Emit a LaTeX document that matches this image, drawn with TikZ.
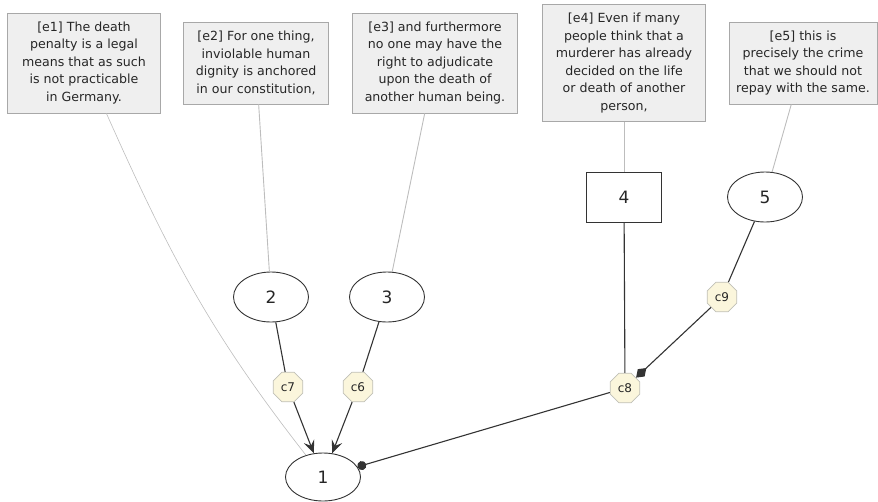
\documentclass[tikz,border=0pt]{standalone}
\usepackage{fontspec}
\setmainfont{DejaVu Sans}
\usetikzlibrary{shapes.geometric,arrows.meta}
\definecolor{boxfill}{HTML}{EFEFEF}
\definecolor{boxline}{HTML}{A8A8A8}
\definecolor{cfill}{HTML}{FBF6DC}
\definecolor{cline}{HTML}{C0C0B8}
\definecolor{thinline}{HTML}{BDBDBD}
\tikzset{
  textbox/.style={draw=boxline, fill=boxfill, line width=0.9pt, align=center, inner sep=0pt,
    font=\fontsize{12.6}{17.5}\selectfont, text=black!85},
  ellnode/.style={ellipse, draw=black!80, line width=0.9pt, minimum width=75pt, minimum height=50pt,
    inner sep=0pt, font=\fontsize{17}{18}\selectfont, text=black!85},
  rectnode/.style={rectangle, draw=black!80, line width=0.9pt, minimum width=75pt, minimum height=50pt,
    inner sep=0pt, font=\fontsize{17}{18}\selectfont, text=black!85},
  conn/.style={regular polygon, regular polygon sides=8, draw=cline, fill=cfill, line width=0.8pt,
    minimum size=32pt, inner sep=0pt, font=\fontsize{12}{12}\selectfont, text=black!85},
  srcedge/.style={draw=thinline, line width=0.9pt},
  argedge/.style={draw=black!80, line width=1.1pt},
}
\begin{document}
\begin{tikzpicture}[x=1pt,y=-1pt]
\useasboundingbox (0,0) rectangle (878,501);
% text boxes
\node[textbox, minimum width=153pt, minimum height=100pt] (e1) at (84,63)
  {[e1] The death\\penalty is a legal\\means that as such\\is not practicable\\in Germany.};
\node[textbox, minimum width=145pt, minimum height=82pt] (e2) at (256,63)
  {[e2] For one thing,\\inviolable human\\dignity is anchored\\in our constitution,};
\node[textbox, minimum width=165pt, minimum height=100pt] (e3) at (435,63)
  {[e3] and furthermore\\no one may have the\\right to adjudicate\\upon the death of\\another human being.};
\node[textbox, minimum width=163pt, minimum height=117pt] (e4) at (624,63)
  {[e4] Even if many\\people think that a\\murderer has already\\decided on the life\\or death of another\\person,};
\node[textbox, minimum width=148pt, minimum height=82pt] (e5) at (803,63)
  {[e5] this is\\precisely the crime\\that we should not\\repay with the same.};
% argument nodes
\node[ellnode] (n2) at (271,297) {2};
\node[ellnode] (n3) at (387,297) {3};
\node[ellnode, minimum height=48pt] (n1) at (323,477) {1};
\node[rectnode] (n4) at (624,197) {4};
\node[ellnode] (n5) at (765,197) {5};
% connector nodes
\node[conn] (c7) at (288,387) {c7};
\node[conn] (c6) at (358,387) {c6};
\node[conn] (c8) at (625,388) {c8};
\node[conn] (c9) at (722,297) {c9};
% source edges
\draw[srcedge, line width=0.6pt] (e1) to[out=-66, in=128] (n1);
\draw[srcedge] (e2) -- (n2);
\draw[srcedge] (e3) -- (n3);
\draw[srcedge] (e4) -- (n4);
\draw[srcedge] (e5) -- (n5);
% argument edges
\draw[argedge] (n2) -- (c7);
\draw[argedge, -{Stealth[length=13pt, width=11pt, inset=5pt]}] (c7) -- (n1);
\draw[argedge] (n3) -- (c6);
\draw[argedge, -{Stealth[length=13pt, width=11pt, inset=5pt]}] (c6) -- (n1);
\draw[argedge] (n4) -- (c8);
\draw[argedge, -{Circle[length=9pt]}] (c8) -- (n1);
\draw[argedge] (n5) -- (c9);
\draw[argedge, -{Diamond[length=14pt, width=10pt]}] (c9) -- (c8);
\end{tikzpicture}
\end{document}
